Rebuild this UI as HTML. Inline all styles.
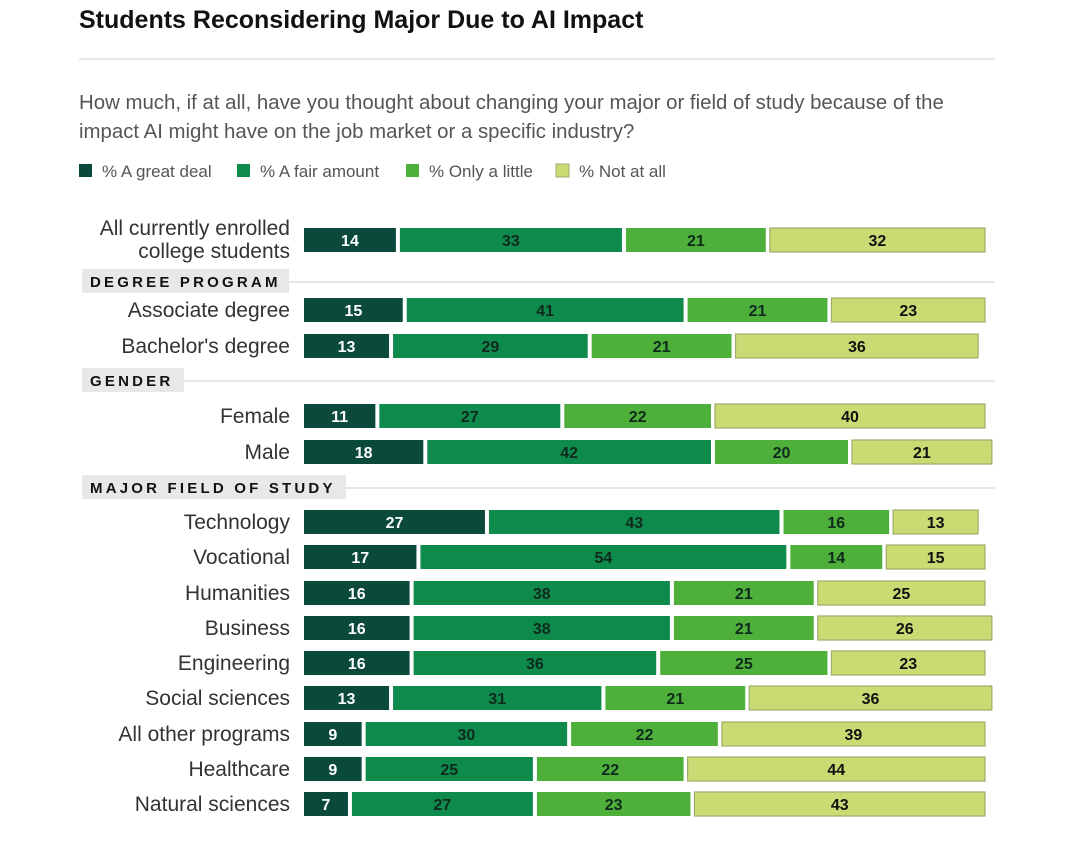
<!DOCTYPE html>
<html><head><meta charset="utf-8">
<style>
body{margin:0;background:#fff;width:1080px;height:838px;overflow:hidden;font-family:"Liberation Sans",sans-serif}
</style></head>
<body>
<svg id="c" width="1080" height="838" xmlns="http://www.w3.org/2000/svg">
<text x="79" y="28" font-size="25" font-weight="bold" fill="#111">Students Reconsidering Major Due to AI Impact</text>
<line x1="79" y1="59" x2="995" y2="59" stroke="#ddd" stroke-width="1.5"/>
<text x="79" y="109" font-size="20.4" fill="#555">How much, if at all, have you thought about changing your major or field of study because of the</text>
<text x="79" y="138" font-size="20.4" fill="#555">impact AI might have on the job market or a specific industry?</text>
<g id="legend"></g>
<g id="bars"></g>
</svg>
<script>
const categories=["All currently enrolled|college students","Associate degree","Bachelor's degree","Female","Male","Technology","Vocational","Humanities","Business","Engineering","Social sciences","All other programs","Healthcare","Natural sciences"];
const greatDeal=[14,15,13,11,18,27,17,16,16,16,13,9,9,7];
const fairAmount=[33,41,29,27,42,43,54,38,38,36,31,30,25,27];
const onlyLittle=[21,21,21,22,20,16,14,21,21,25,21,22,22,23];
const notAtAll=[32,23,36,40,21,13,15,25,26,23,36,39,44,43];
const seriesNames=["% A great deal","% A fair amount","% Only a little","% Not at all"];
const sections=["DEGREE PROGRAM","GENDER","MAJOR FIELD OF STUDY"];
const rowY=[240,310,346,416,452,522,557,593,628,663,698,734,769,804];
const secY=[281,380,487];
const secW=[207,102,264];
const fills=["#0b4a3a","#0f8a4d","#4eb03b","#c9dc74"];
const strokes=["none","none","none","#a3ab6c"];
const txtCol=["#fff","#0e2a1c","#0e2a1c","#111"];
const NS="http://www.w3.org/2000/svg";
const x0=304,unit=6.85,gap=4,bh=24;
function xs(v){return v*unit;}
const lg=document.getElementById('legend');
const lpos=[79,237,406,556];
seriesNames.forEach((n,i)=>{
  const lx=lpos[i];
  const r=document.createElementNS(NS,'rect');
  
  
  r.setAttribute('x',lx);r.setAttribute('y',164);r.setAttribute('width',13);r.setAttribute('height',13);
  r.setAttribute('fill',fills[i]);if(i==3){r.setAttribute('stroke',strokes[i]);}
  lg.appendChild(r);
  const t=document.createElementNS(NS,'text');
  
  
  t.setAttribute('x',lx+23);t.setAttribute('y',177);t.setAttribute('font-size','17');t.setAttribute('fill','#555');
  t.textContent=n;lg.appendChild(t);
});
const g=document.getElementById('bars');
sections.forEach((s,i)=>{
  const r=document.createElementNS(NS,'rect');
  
  
  r.setAttribute('x',82);r.setAttribute('y',secY[i]-12);r.setAttribute('width',secW[i]);r.setAttribute('height',24);r.setAttribute('fill','#e8e8e8');
  g.appendChild(r);
  const l=document.createElementNS(NS,'line');
  
  
  l.setAttribute('x1',82+secW[i]);l.setAttribute('x2',995);l.setAttribute('y1',secY[i]+1);l.setAttribute('y2',secY[i]+1);l.setAttribute('stroke','#ddd');l.setAttribute('stroke-width','1.5');
  g.appendChild(l);
  const t=document.createElementNS(NS,'text');
  
  
  t.setAttribute('x',90);t.setAttribute('y',secY[i]+6);t.setAttribute('font-size','15');t.setAttribute('font-weight','bold');t.setAttribute('letter-spacing','3.2');t.setAttribute('fill','#111');
  t.textContent=s;g.appendChild(t);
});
categories.forEach((c,i)=>{
  const y=rowY[i];
  const lines=c.split('|');
  lines.forEach((ln,k)=>{
    const t=document.createElementNS(NS,'text');
    
    
    const yy=lines.length>1?y-12+k*23+7:y+7;
    t.setAttribute('x',290);t.setAttribute('y',yy);t.setAttribute('text-anchor','end');t.setAttribute('font-size','21');t.setAttribute('fill','#333');
    t.textContent=ln;g.appendChild(t);
  });
  const vals=[greatDeal[i],fairAmount[i],onlyLittle[i],notAtAll[i]];
  let x=x0;
  vals.forEach((v,j)=>{
    const w=xs(v)-gap;
    const r=document.createElementNS(NS,'rect');
    
    
    r.setAttribute('x',x);r.setAttribute('y',y-bh/2);r.setAttribute('width',w);r.setAttribute('height',bh);r.setAttribute('fill',fills[j]);
    if(strokes[j]!='none'){r.setAttribute('stroke',strokes[j]);r.setAttribute('stroke-width','1.2');}
    g.appendChild(r);
    const t=document.createElementNS(NS,'text');
    
    
    t.setAttribute('x',x+w/2);t.setAttribute('y',y+6);t.setAttribute('text-anchor','middle');t.setAttribute('font-size','16');t.setAttribute('font-weight','bold');t.setAttribute('fill',txtCol[j]);
    t.textContent=v;g.appendChild(t);
    x+=xs(v);
  });
});
</script>
</body></html>
